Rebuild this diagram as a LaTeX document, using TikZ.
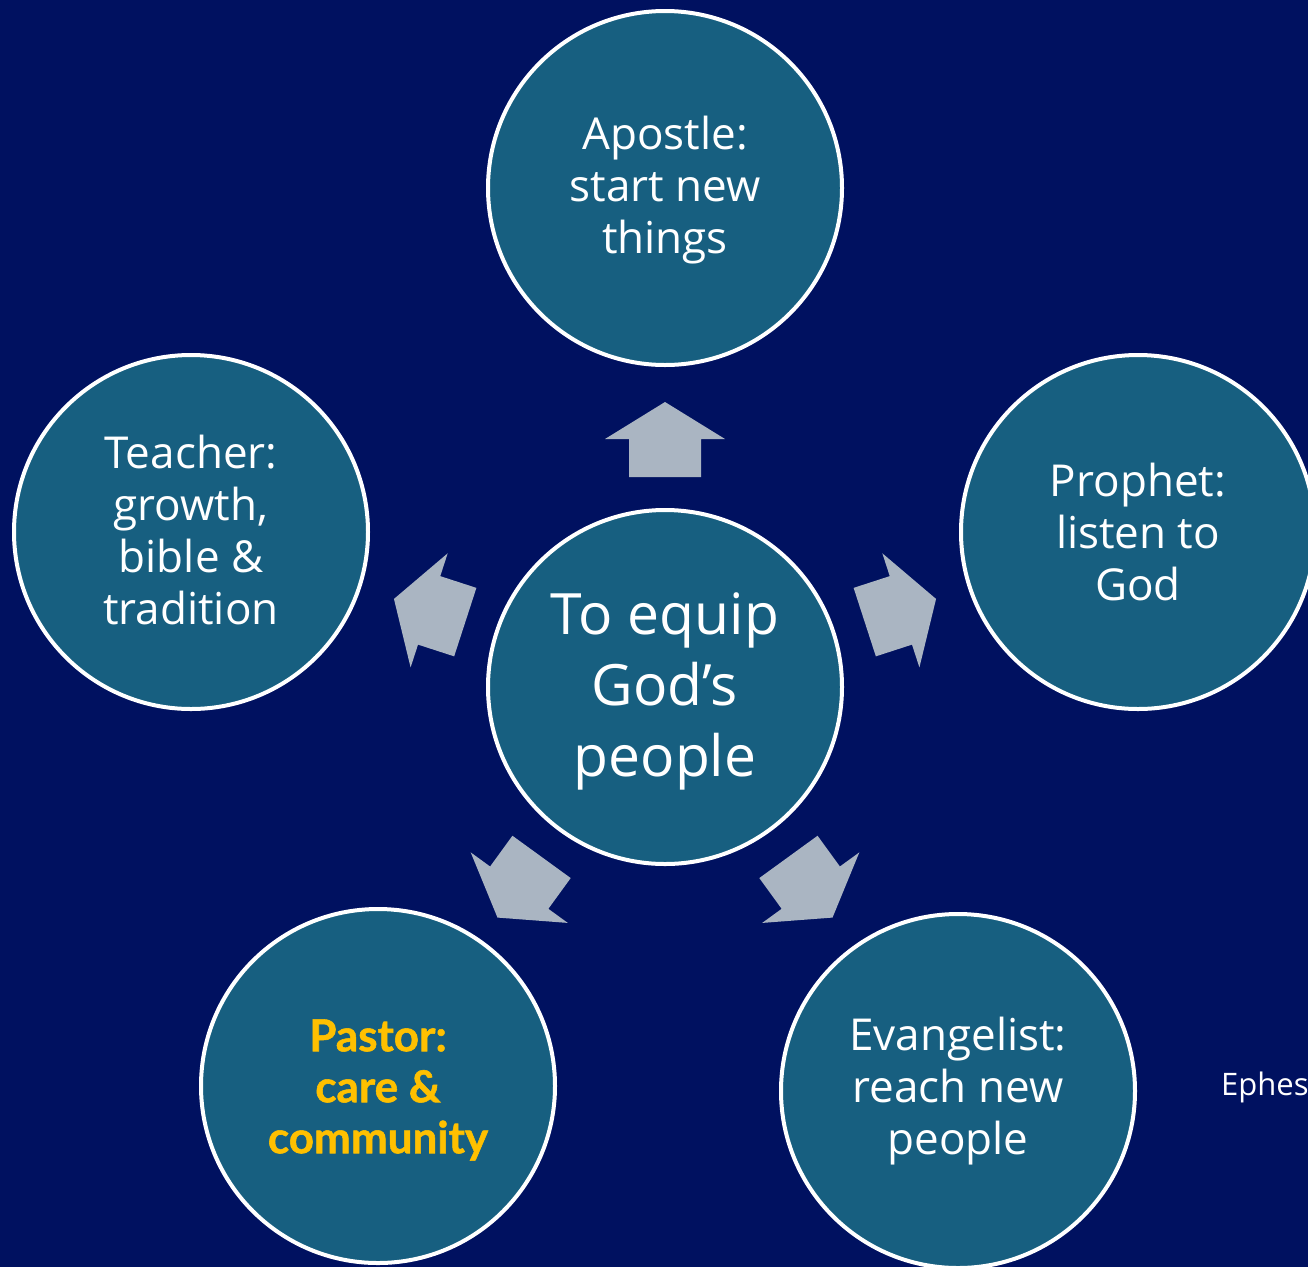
\documentclass[tikz,border=0pt]{standalone}
\usepackage{fontspec}
\setmainfont{Open Sans}
\newfontfamily\pastorfont[BoldFeatures={FakeBold=1.2}]{Lato}
\definecolor{bgnavy}{RGB}{0,17,96}
\definecolor{circfill}{RGB}{23,95,128}
\definecolor{arrowfill}{RGB}{170,181,194}
\definecolor{pastoryellow}{RGB}{255,192,0}
\tikzset{
  role/.style={circle, draw=white, line width=4pt, fill=circfill, minimum size=354pt,
    inner sep=0pt, align=center, text=white, font=\fontsize{44}{52}\selectfont},
  hub/.style={role, font=\fontsize{57}{71}\selectfont},
  blockarrow/.style={fill=arrowfill}
}
\begin{document}
\begin{tikzpicture}[x=1pt,y=-1pt]
\useasboundingbox (0,0) rectangle (1308,1267);
\clip (0,0) rectangle (1308,1267);
\fill[bgnavy] (0,0) rectangle (1308,1267);

\node[hub] (center) at (665,687) {};
\node[align=center, text=white, font=\fontsize{57}{71}\selectfont, inner sep=0pt] (centertext) at (665,691) {To equip\\God’s\\people};
\node[role] (apostle) at (665,188) {};
\node[align=center, text=white, font=\fontsize{44}{52}\selectfont, inner sep=0pt] (apostletext) at (665,190) {Apostle:\\start new\\things};
\node[role] (prophet) at (1138,532) {Prophet:\\listen to\\God};
\node[role] (teacher) at (191,532) {};
\node[align=center, text=white, font=\fontsize{44}{52}\selectfont, inner sep=0pt] (teachertext) at (191,530) {Teacher:\\growth,\\bible \&\\tradition};
\node[role] (pastor) at (378,1086) {};
\node[align=center, text=pastoryellow, font=\pastorfont\bfseries\fontsize{44}{51}\selectfont, inner sep=0pt] (pastortext) at (378,1090) {Pastor:\\care \&\\community};
\node[role] (evangelist) at (958,1091) {Evangelist:\\reach new\\people};

\foreach \ang in {0,-72,72,-144,144}{
  \begin{scope}[shift={(center.center)}, rotate=\ang]
    \fill[blockarrow] (0,-285) -- (60,-248) -- (36,-248) -- (36,-210)
      -- (-36,-210) -- (-36,-248) -- (-60,-248) -- cycle;
  \end{scope}
}

\node[anchor=base west, text=white, inner sep=0pt, font=\fontsize{31}{37}\selectfont] (ref) at (1221,1095) {Ephes};
\end{tikzpicture}
\end{document}
